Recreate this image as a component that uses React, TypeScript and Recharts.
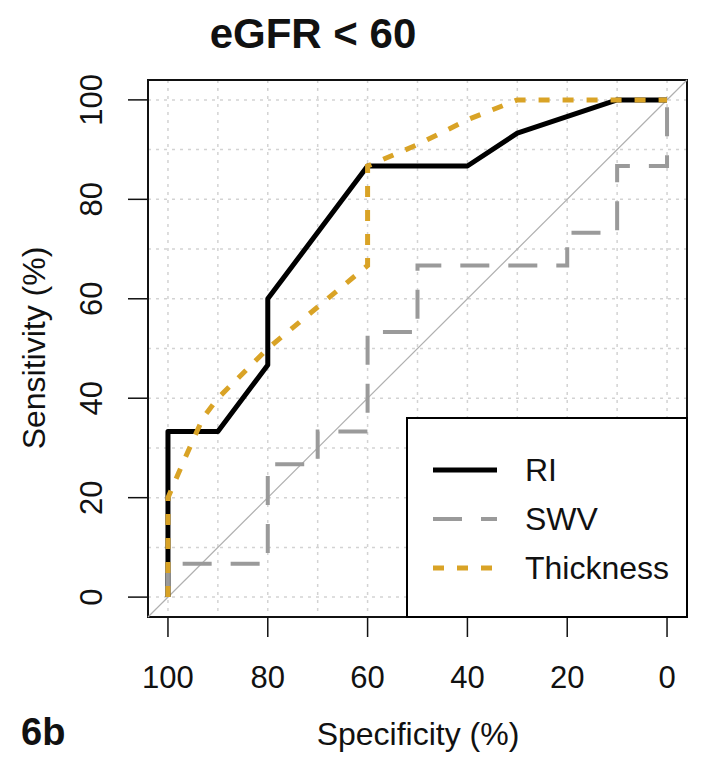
import React from 'react';
import {
  ComposedChart,
  Line,
  XAxis,
  YAxis,
  CartesianGrid,
  ReferenceLine,
  ReferenceArea,
  Legend,
} from 'recharts';

// ROC curves, specificity (%) vs sensitivity (%)
const specTicks = [100, 80, 60, 40, 20, 0];
const sensTicks = [0, 20, 40, 60, 80, 100];
const gridValues = [0, 10, 20, 30, 40, 50, 60, 70, 80, 90, 100];

const riSpec = [100, 100, 90, 80, 80, 60, 40, 30, 10, 0];
const riSens = [0, 33.3, 33.3, 46.7, 60, 86.7, 86.7, 93.3, 100, 100];

const swvSpec = [100, 100, 80, 80, 70, 70, 60, 60, 50, 50, 20, 20, 10, 10, 0, 0];
const swvSens = [0, 6.7, 6.7, 26.7, 26.7, 33.3, 33.3, 53.3, 53.3, 66.7, 66.7, 73.3, 73.3, 86.7, 86.7, 100];

const thickSpec = [100, 100, 97, 93, 90, 80, 60, 60, 50, 40, 30, 0];
const thickSens = [0, 20, 27, 36, 40, 50, 66.7, 86.7, 91, 96, 100, 100];

const seriesNames = ['RI', 'SWV', 'Thickness'];

const toPoints = (spec: number[], sens: number[]) =>
  spec.map((s, i) => ({ spec: s, sens: sens[i] }));

const riData = toPoints(riSpec, riSens);
const swvData = toPoints(swvSpec, swvSens);
const thickData = toPoints(thickSpec, thickSens);

const FONT = '"Liberation Sans", Arial, Helvetica, sans-serif';

const lineStyle: Record<string, { stroke: string; width: number; dash?: string }> = {
  RI: { stroke: '#000000', width: 5 },
  SWV: { stroke: '#9a9a9a', width: 4, dash: '29 19' },
  Thickness: { stroke: '#d9a326', width: 5, dash: '11 13' },
};

const YTick = (props: any) => {
  const { x, y, payload } = props;
  return (
    <text
      x={x}
      y={y}
      transform={`rotate(-90 ${x} ${y})`}
      textAnchor="middle"
      fontSize={31}
      fontFamily={FONT}
      fill="#111"
    >
      {payload.value}
    </text>
  );
};

const renderLegend = () => (
  <svg width={282} height={201} style={{ display: 'block' }}>
    <rect x={1} y={1} width={280} height={199} fill="#fff" stroke="#000" strokeWidth={2} />
    {seriesNames.map((name, i) => {
      const st = lineStyle[name];
      const cy = 53 + i * 49;
      return (
        <g key={name}>
          <line
            x1={27}
            x2={91}
            y1={cy}
            y2={cy}
            stroke={st.stroke}
            strokeWidth={st.width}
            strokeDasharray={st.dash}
          />
          <text x={119} y={cy + 11} fontSize={32} fontFamily={FONT} fill="#111">
            {name}
          </text>
        </g>
      );
    })}
  </svg>
);

export default function App() {
  return (
    <div style={{ position: 'absolute', left: 0, top: 0, width: 708, height: 775, background: '#fff', fontFamily: FONT }}>
      <ComposedChart width={708} height={775} margin={{ top: 80, right: 21, left: 0, bottom: 0 }}>
        <CartesianGrid
          stroke="#d3d3d3"
          strokeWidth={1.5}
          strokeDasharray="3 5"
          horizontalValues={gridValues}
          verticalValues={gridValues}
        />
        <XAxis
          type="number"
          dataKey="spec"
          domain={[-4, 104]}
          allowDataOverflow
          reversed
          ticks={specTicks}
          interval={0}
          height={158}
          tickSize={20}
          tickMargin={29}
          axisLine={false}
          tickLine={{ stroke: '#111', strokeWidth: 1.5 }}
          tick={{ fontSize: 31, fill: '#111', fontFamily: FONT }}
        />
        <YAxis
          type="number"
          dataKey="sens"
          domain={[-4, 104]}
          allowDataOverflow
          ticks={sensTicks}
          interval={0}
          width={148}
          tickSize={20}
          tickMargin={26}
          axisLine={false}
          tickLine={{ stroke: '#111', strokeWidth: 1.5 }}
          tick={<YTick />}
        />
        <ReferenceLine
          segment={[{ x: 104, y: -4 }, { x: -4, y: 104 }]}
          stroke="#b0b0b0"
          strokeWidth={1.2}
        />
        <Line
          data={riData}
          dataKey="sens"
          name="RI"
          type="linear"
          dot={false}
          stroke={lineStyle.RI.stroke}
          strokeWidth={lineStyle.RI.width}
          strokeLinejoin="round"
          isAnimationActive={false}
        />
        <Line
          data={swvData}
          dataKey="sens"
          name="SWV"
          type="linear"
          dot={false}
          stroke={lineStyle.SWV.stroke}
          strokeWidth={lineStyle.SWV.width}
          strokeDasharray={lineStyle.SWV.dash}
          isAnimationActive={false}
        />
        <Line
          data={thickData}
          dataKey="sens"
          name="Thickness"
          type="linear"
          dot={false}
          stroke={lineStyle.Thickness.stroke}
          strokeWidth={lineStyle.Thickness.width}
          strokeDasharray={lineStyle.Thickness.dash}
          isAnimationActive={false}
        />
        <ReferenceArea
          x1={-4}
          x2={104}
          y1={-4}
          y2={104}
          fill="none"
          fillOpacity={0}
          stroke="#111"
          strokeWidth={2}
          strokeOpacity={1}
        />
        <Legend
          layout="vertical"
          verticalAlign="middle"
          align="center"
          content={renderLegend}
          wrapperStyle={{ position: 'absolute', left: 406, top: 417, width: 282, height: 201 }}
        />
      </ComposedChart>
      <svg
        width={708}
        height={775}
        style={{ position: 'absolute', left: 0, top: 0, pointerEvents: 'none' }}
      >
        <text x={313} y={48} textAnchor="middle" fontSize={42} fontWeight="bold" fontFamily={FONT} fill="#111">
          eGFR &lt; 60
        </text>
        <text x={21} y={745} fontSize={38} fontWeight="bold" fontFamily={FONT} fill="#111">
          6b
        </text>
        <text x={418} y={745} textAnchor="middle" fontSize={32} fontFamily={FONT} fill="#111">
          Specificity (%)
        </text>
        <text
          x={45}
          y={348}
          transform="rotate(-90 45 348)"
          textAnchor="middle"
          fontSize={32}
          fontFamily={FONT}
          fill="#111"
        >
          Sensitivity (%)
        </text>
      </svg>
    </div>
  );
}
